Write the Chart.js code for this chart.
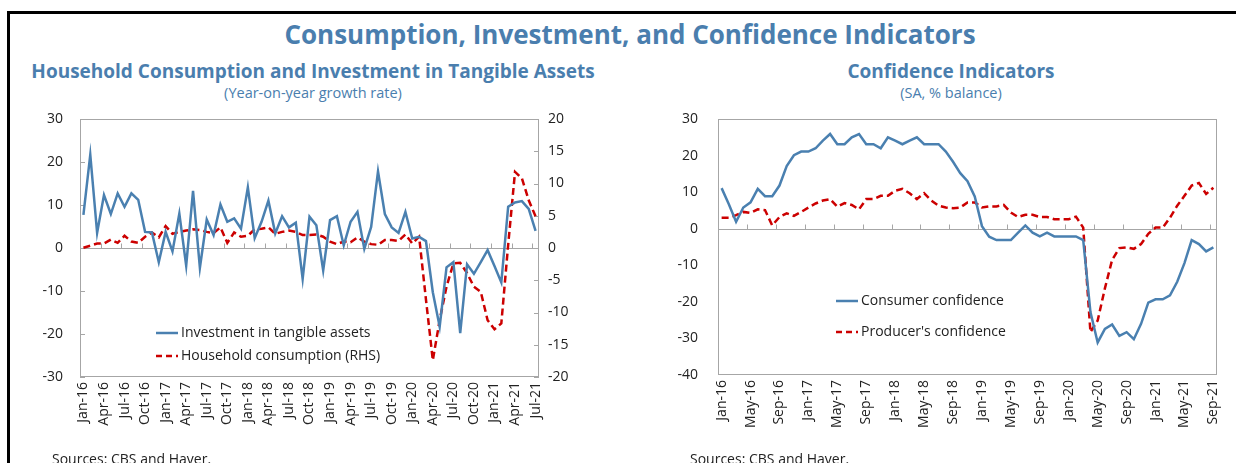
<!DOCTYPE html>
<html lang="en">
<head>
<meta charset="UTF-8">
<title>Consumption, Investment, and Confidence Indicators</title>
<script src="https://cdn.jsdelivr.net/npm/chart.js"></script>
<style>
  body { margin: 0; background: #fff; font-family: "Open Sans", "Noto Sans", sans-serif; }
  #page { position: relative; width: 1236px; height: 463px; overflow: hidden; }
  .frame { position: absolute; left: 7px; top: 11px; width: 1300px; height: 500px; border-left: 3px solid #000; border-top: 3px solid #000; }
  .title { position: absolute; left: 0; width: 1260px; top: 16px; text-align: center; font-size: 26px; font-weight: bold; color: #4a7eae; }
  .sub { position: absolute; text-align: center; font-size: 19px; font-weight: bold; color: #4a7eae; }
  .note { position: absolute; text-align: center; font-size: 14.5px; color: #4a7eae; }
  .src { position: absolute; top: 449px; font-size: 14px; color: #222; }
  canvas { position: absolute; }
  .leg { position: absolute; font-size: 14px; color: #222; white-space: nowrap; }
  .leg svg { vertical-align: middle; margin-right: 3px; }
</style>
</head>
<body>
<div id="page">
  <div class="frame"></div>
  <div class="title">Consumption, Investment, and Confidence Indicators</div>
  <div class="sub" style="left:13px; width:600px; top:58px;">Household Consumption and Investment in Tangible Assets</div>
  <div class="note" style="left:13px; width:600px; top:83px;">(Year-on-year growth rate)</div>
  <div class="sub" style="left:651px; width:600px; top:58px;">Confidence Indicators</div>
  <div class="note" style="left:651px; width:600px; top:83px;">(SA, % balance)</div>

  <canvas id="left" width="600" height="363" style="left:0; top:100px;"></canvas>
  <canvas id="right" width="596" height="363" style="left:640px; top:100px;"></canvas>

  <div class="leg" style="left:156px; top:322px;"><svg width="22" height="4"><line x1="0" y1="2" x2="22" y2="2" stroke="#4a80b0" stroke-width="2.5"/></svg>Investment in tangible assets</div>
  <div class="leg" style="left:156px; top:345px;"><svg width="22" height="4"><line x1="0" y1="2" x2="22" y2="2" stroke="#cc0000" stroke-width="2.5" stroke-dasharray="6,4"/></svg>Household consumption (RHS)</div>
  <div class="leg" style="left:836px; top:290px;"><svg width="22" height="4"><line x1="0" y1="2" x2="22" y2="2" stroke="#4a80b0" stroke-width="2.5"/></svg>Consumer confidence</div>
  <div class="leg" style="left:836px; top:321px;"><svg width="22" height="4"><line x1="0" y1="2" x2="22" y2="2" stroke="#cc0000" stroke-width="2.5" stroke-dasharray="6,4"/></svg>Producer's confidence</div>

  <div class="src" style="left:52px;">Sources: CBS and Haver.</div>
  <div class="src" style="left:690px;">Sources: CBS and Haver.</div>
</div>

<script>
// months Jan-16 .. Sep-21
const months = [
  'Jan-16','Feb-16','Mar-16','Apr-16','May-16','Jun-16','Jul-16','Aug-16','Sep-16','Oct-16','Nov-16','Dec-16',
  'Jan-17','Feb-17','Mar-17','Apr-17','May-17','Jun-17','Jul-17','Aug-17','Sep-17','Oct-17','Nov-17','Dec-17',
  'Jan-18','Feb-18','Mar-18','Apr-18','May-18','Jun-18','Jul-18','Aug-18','Sep-18','Oct-18','Nov-18','Dec-18',
  'Jan-19','Feb-19','Mar-19','Apr-19','May-19','Jun-19','Jul-19','Aug-19','Sep-19','Oct-19','Nov-19','Dec-19',
  'Jan-20','Feb-20','Mar-20','Apr-20','May-20','Jun-20','Jul-20','Aug-20','Sep-20','Oct-20','Nov-20','Dec-20',
  'Jan-21','Feb-21','Mar-21','Apr-21','May-21','Jun-21','Jul-21','Aug-21','Sep-21'
];
const leftMonths = months.slice(0, 67);   // Jan-16 .. Jul-21
const rightMonths = months;               // Jan-16 .. Sep-21

// left chart, % y/y
const investment = [7.7, 21.7, 3.5, 12.3, 7.9, 12.7, 9.6, 12.7, 11.2, 3.75,
  3.6, -3.3, 3.75, -0.8, 8.0, -4.1, 13.3, -4.6, 6.6, 3.0,
  10.1, 6.1, 6.9, 4.5, 14.1, 2.3, 6.1, 11.0, 3.4, 7.4,
  4.8, 5.9, -7.2, 7.3, 5.3, -5.2, 6.5, 7.4, 0.6, 6.1,
  8.4, -0.2, 4.9, 17.8, 7.9, 4.8, 3.5, 8.4, 2.2, 2.6,
  1.6, -10.3, -18.3, -4.5, -3.3, -19.8, -3.8, -6.0, -3.3, -0.5,
  -4.2, -8.0, 9.6, 10.6, 10.9, 9.1, 4.0];
const consumption = [0.05, 0.36, 0.7, 0.7, 1.3, 0.8, 1.9, 1.0, 0.8, 1.75,
  2.4, 1.65, 3.4, 2.2, 2.5, 2.7, 2.9, 2.8, 2.5, 2.3,
  3.2, 0.8, 2.4, 1.75, 1.9, 2.9, 3.0, 3.2, 2.2, 2.5,
  2.7, 2.5, 2.0, 2.0, 2.1, 1.75, 1.0, 0.6, 1.0, 0.9,
  1.65, 1.0, 0.6, 0.5, 1.25, 1.25, 1.1, 2.1, 0.7, 1.75,
  -8.0, -17.4, -11.2, -6.0, -2.4, -2.3, -3.9, -6.0, -6.8, -11.2,
  -12.6, -11.7, 0.5, 11.8, 10.8, 7.4, 4.9];

// right chart, % balance
const consumerConf = [11.1, 6.7, 1.9, 5.8, 7.2, 10.9, 8.9, 8.9, 11.8, 17.1,
  20.1, 21.1, 21.1, 22.0, 24.1, 25.9, 23.1, 23.1, 25.0, 25.9,
  23.1, 23.1, 22.0, 25.0, 24.1, 23.1, 24.1, 25.0, 23.1, 23.1,
  23.1, 21.1, 18.3, 15.2, 13.0, 8.8, 0.7, -2.2, -3.1, -3.1,
  -3.1, -1.1, 0.9, -1.1, -2.1, -1.1, -2.1, -2.1, -2.1, -2.1,
  -3.1, -22.8, -31.1, -27.4, -26.2, -29.3, -28.3, -30.2, -26.0, -20.2,
  -19.3, -19.3, -18.2, -14.5, -9.4, -3.1, -4.2, -6.2, -5.1];
const producerConf = [3.0, 3.0, 3.7, 4.6, 4.3, 5.3, 5.1, 0.9, 3.2, 4.2,
  3.5, 4.6, 5.8, 6.9, 7.7, 8.1, 6.0, 7.0, 6.5, 5.3,
  8.1, 8.1, 9.0, 9.0, 10.4, 10.9, 9.7, 8.1, 9.7, 7.7,
  6.3, 5.8, 5.6, 5.8, 7.2, 7.2, 5.8, 6.1, 6.1, 6.5,
  4.4, 3.2, 3.8, 3.8, 3.2, 3.2, 2.6, 2.6, 2.6, 3.3,
  0.3, -28.3, -25.1, -16.3, -8.5, -5.3, -5.1, -5.5, -4.2, -1.4,
  0.3, 0.3, 3.0, 6.3, 9.0, 11.8, 12.5, 9.5, 11.2];

const BLUE = '#4a80b0';
const RED = '#cc0000';
const AXIS = '#a6a6a6';
const tickFont = { family: '"Open Sans", "Noto Sans", sans-serif', size: 14 };

// plot frame, zero line, inward tick marks
function framePlugin(xEvery, yIds) {
  return {
    id: 'frame',
    beforeDatasetsDraw(chart) {
      const { ctx, chartArea: a, scales } = chart;
      ctx.save();
      ctx.strokeStyle = AXIS;
      ctx.lineWidth = 1;
      ctx.strokeRect(a.left + 0.5, a.top + 0.5, a.width - 1, a.height - 1);
      const y0 = Math.round(scales.y.getPixelForValue(0)) + 0.5;
      ctx.beginPath();
      ctx.moveTo(a.left, y0); ctx.lineTo(a.right, y0);
      const n = chart.data.labels.length;
      for (let k = xEvery; k < n; k += xEvery) {
        const x = Math.round(scales.x.getPixelForValue(k - 0.5)) + 0.5;
        ctx.moveTo(x, y0); ctx.lineTo(x, y0 - 5);
      }
      yIds.forEach(id => {
        const s = scales[id];
        const left = s.position === 'left';
        s.ticks.forEach(t => {
          const y = Math.round(s.getPixelForValue(t.value)) + 0.5;
          const x = left ? a.left : a.right;
          ctx.moveTo(x, y); ctx.lineTo(left ? x + 5 : x - 5, y);
        });
      });
      ctx.stroke();
      ctx.restore();
    }
  };
}

function xAxis(labels, every, h) {
  return {
    type: 'category', offset: true,
    grid: { display: false, drawTicks: false }, border: { display: false },
    ticks: { autoSkip: false, minRotation: 90, maxRotation: 90, padding: 5, color: '#222', font: tickFont,
      callback: (v, i) => (i % every === 0 ? labels[i] : '') },
    afterFit: s => { s.height = h; }
  };
}

function yAxis(pos, min, max, step, pad) {
  return {
    position: pos, min: min, max: max,
    grid: { display: false, drawTicks: false }, border: { display: false },
    ticks: { stepSize: step, padding: pad, color: '#222', font: tickFont },
    // keep label padding from pushing the plot area down
    afterFit: s => { s.width = 40; s.paddingTop = 0; s.paddingBottom = 0; }
  };
}

new Chart(document.getElementById('left'), {
  type: 'line',
  data: {
    labels: leftMonths,
    datasets: [
      { label: 'Investment in tangible assets', data: investment, yAxisID: 'y',
        borderColor: BLUE, borderWidth: 2.5, pointRadius: 0, tension: 0 },
      { label: 'Household consumption (RHS)', data: consumption, yAxisID: 'y1',
        borderColor: RED, borderWidth: 2.5, borderDash: [7, 4], pointRadius: 0, tension: 0 }
    ]
  },
  options: {
    responsive: false, animation: false,
    layout: { padding: { left: 40, right: 21, top: 19, bottom: 0 } },
    plugins: { legend: { display: false }, tooltip: { enabled: false } },
    scales: {
      x: xAxis(leftMonths, 3, 86),
      y: yAxis('left', -30, 30, 10, 17),
      y1: yAxis('right', -20, 20, 5, 9)
    }
  },
  plugins: [framePlugin(3, ['y', 'y1'])]
});

new Chart(document.getElementById('right'), {
  type: 'line',
  data: {
    labels: rightMonths,
    datasets: [
      { label: 'Consumer confidence', data: consumerConf,
        borderColor: BLUE, borderWidth: 2.5, pointRadius: 0, tension: 0 },
      { label: "Producer's confidence", data: producerConf,
        borderColor: RED, borderWidth: 2.5, borderDash: [7, 4], pointRadius: 0, tension: 0 }
    ]
  },
  options: {
    responsive: false, animation: false,
    layout: { padding: { left: 38, right: 19, top: 19, bottom: 0 } },
    plugins: { legend: { display: false }, tooltip: { enabled: false } },
    scales: {
      x: xAxis(rightMonths, 4, 88),
      y: yAxis('left', -40, 30, 10, 20)
    }
  },
  plugins: [framePlugin(4, [])]
});
</script>
</body>
</html>
